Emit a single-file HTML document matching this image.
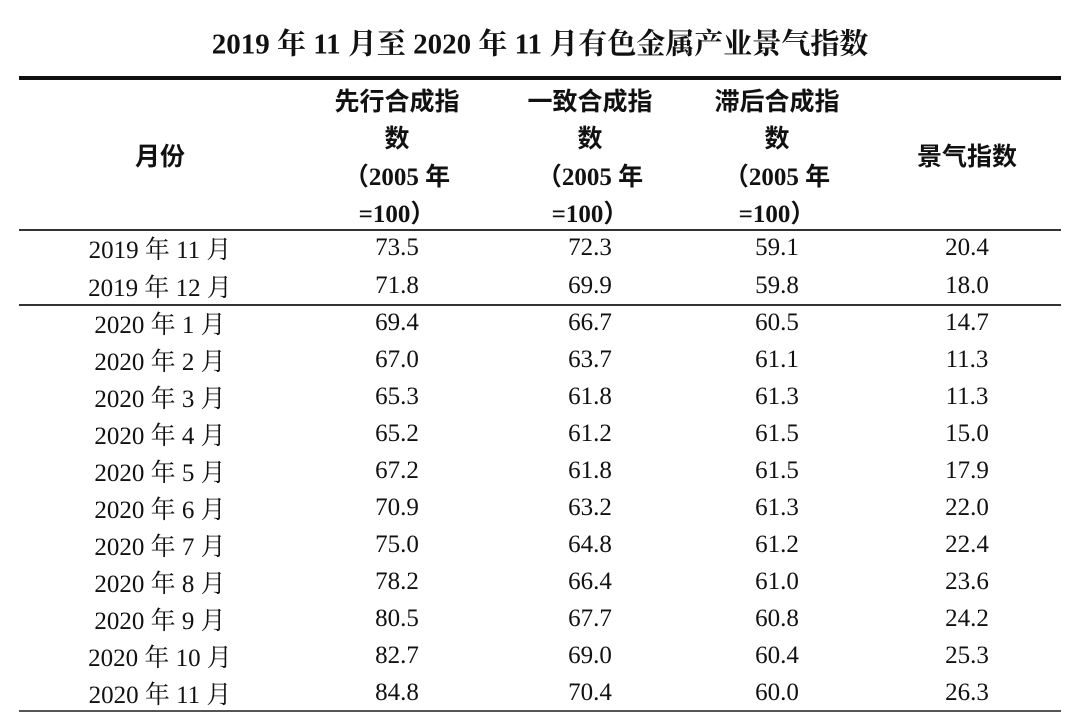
<!DOCTYPE html>
<html><head><meta charset="utf-8"><style>
body{margin:0;width:1080px;height:724px;background:#fff;position:relative;overflow:hidden;font-family:"Liberation Serif","Noto Serif CJK SC",serif;color:#111}
.t{position:absolute;transform:translate(-50%,-50%);white-space:nowrap}
.h{font-weight:bold;font-size:25px;font-family:"Liberation Serif","Noto Sans CJK SC",sans-serif}
.d{font-size:25px}
.line{position:absolute;left:19px;width:1042px;background:#333}
</style></head><body>
<div class="t" style="left:540px;top:42px;font-size:29px;font-weight:bold;font-family:'Liberation Serif','Noto Serif CJK SC',serif">2019 年 11 月至 2020 年 11 月有色金属产业景气指数</div>
<div class="line" style="top:76px;height:4px;background:#111"></div>
<div class="line" style="top:229px;height:1.5px"></div>
<div class="line" style="top:304px;height:1.5px"></div>
<div class="line" style="top:710px;height:2px;background:#555"></div>
<div id="hdr"></div><div id="body"></div>
<script>
const months=["2019 年 11 月","2019 年 12 月","2020 年 1 月","2020 年 2 月","2020 年 3 月","2020 年 4 月","2020 年 5 月","2020 年 6 月","2020 年 7 月","2020 年 8 月","2020 年 9 月","2020 年 10 月","2020 年 11 月"];
const leading=["73.5","71.8","69.4","67.0","65.3","65.2","67.2","70.9","75.0","78.2","80.5","82.7","84.8"];
const coincident=["72.3","69.9","66.7","63.7","61.8","61.2","61.8","63.2","64.8","66.4","67.7","69.0","70.4"];
const lagging=["59.1","59.8","60.5","61.1","61.3","61.5","61.5","61.3","61.2","61.0","60.8","60.4","60.0"];
const prosperity=["20.4","18.0","14.7","11.3","11.3","15.0","17.9","22.0","22.4","23.6","24.2","25.3","26.3"];
const cx=[160,397,590,777,967];
function add(parent,txt,x,y,cls,name){
 const e=document.createElement('div');e.className='t '+cls;e.textContent=txt;
 e.style.left=x+'px';e.style.top=y+'px';
 
 
 parent.appendChild(e);}
const H=document.getElementById('hdr');
add(H,"月份",cx[0],155,'h','header-month');
const heads=[["先行合成指","数","（2005 年","=100）"],["一致合成指","数","（2005 年","=100）"],["滞后合成指","数","（2005 年","=100）"]];
const hy=[100,137,175,212];
heads.forEach((h,i)=>h.forEach((s,j)=>add(H,s,cx[i+1],hy[j],'h','header-col-'+(i+1))));
add(H,"景气指数",cx[4],155,'h','header-prosperity');
const B=document.getElementById('body');
months.forEach((m,i)=>{
 const y=i<2?248+i*37.5:323+(i-2)*37;
 add(B,m,cx[0],y,'d','month-cell');
 add(B,leading[i],cx[1],y,'d','leading-cell');
 add(B,coincident[i],cx[2],y,'d','coincident-cell');
 add(B,lagging[i],cx[3],y,'d','lagging-cell');
 add(B,prosperity[i],cx[4],y,'d','prosperity-cell');
});
</script>
</body></html>
